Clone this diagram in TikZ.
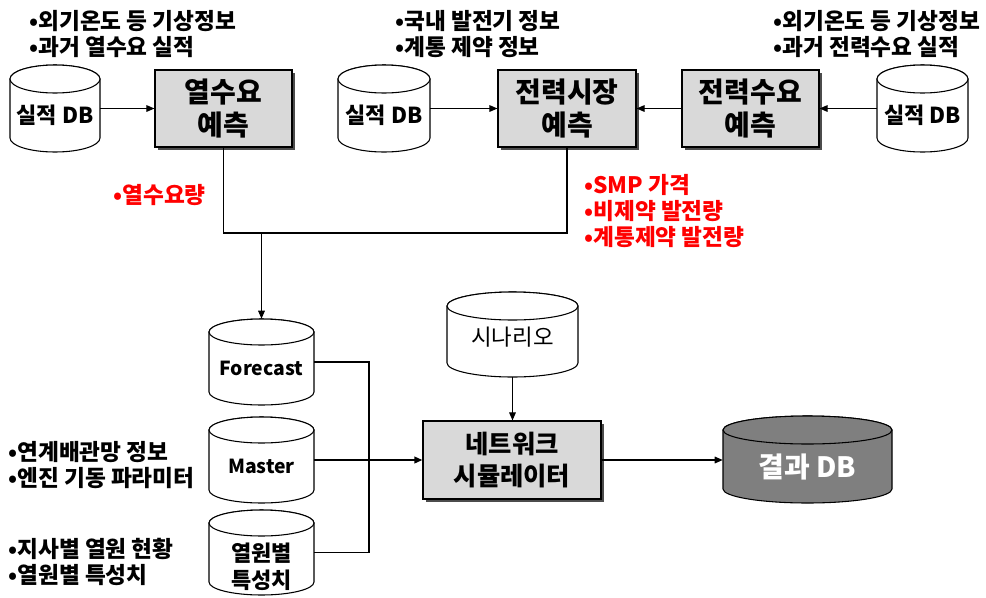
\documentclass[tikz,border=0pt]{standalone}
\usepackage{fontspec}
\setmainfont{Noto Sans CJK KR}
\usetikzlibrary{arrows.meta,shadows}
\definecolor{boxgray}{HTML}{D9D9D9}
\definecolor{dbdarkgray}{HTML}{7F7F7F}
\newcommand\dbcyl[9]{%
  \path[cylbody,#7] ({#2-#5},{#3+#6}) -- ({#2-#5},{#4-#6})
     arc[start angle=180,end angle=0,x radius=#5,y radius=#6]
     -- ({#2+#5},{#3+#6})
     arc[start angle=0,end angle=-180,x radius=#5,y radius=#6] -- cycle;
  \path[cylbody,#7] (#2,{#3+#6}) ellipse[x radius=#5,y radius=#6];
  \node[cylnode, minimum width={2*#5*0.75pt}, minimum height={(#4-#3)*0.75pt}] (#1) at (#2,{(#3+#4)/2}) {};
  \node[cyltext,#7 text] (#1-t) at (#2,#8) {#9};
}
\tikzset{
  x=0.75pt, y=-0.75pt,
  lbl/.style={anchor=west, inner sep=0pt, align=left, font=\fontsize{17}{19.5}\selectfont\bfseries},
  redlbl/.style={lbl, text=red},
  procbox/.style={draw=black, line width=0.9pt, fill=boxgray, align=center, inner sep=0pt,
    font=\fontsize{21}{25}\selectfont\bfseries,
    drop shadow={shadow xshift=2.6pt, shadow yshift=-2.6pt, fill=black!70, opacity=1}},
  cylbody/.style={draw=black, line width=0.8pt},
  cylnode/.style={draw=none, inner sep=0pt},
  cyltext/.style={inner sep=0pt, align=center, font=\fontsize{16.5}{20}\selectfont\bfseries},
  dbplain/.style={fill=white},
  dbplain text/.style={},
  dbscen/.style={fill=white},
  dbscen text/.style={font=\fontsize{16.8}{20}\selectfont},
  dbdark/.style={fill=dbdarkgray},
  dbdark text/.style={text=white, font=\fontsize{21}{25}\selectfont\bfseries},
  line/.style={draw=black, line width=0.8pt},
  arr/.style={line, -{Triangle[length=6pt,width=5pt]}},
}
\begin{document}
\begin{tikzpicture}
\useasboundingbox (0,0) rectangle (986,597);

% top labels
\node[lbl] (t1) at (29,34) {•외기온도 등 기상정보\\•과거 열수요 실적};
\node[lbl] (t2) at (395,34) {•국내 발전기 정보\\•계통 제약 정보};
\node[lbl] (t3) at (773,34) {•외기온도 등 기상정보\\•과거 전력수요 실적};

% top DBs
\dbcyl{db1}{55}{65}{152}{45}{14}{dbplain}{115.5}{실적 DB}
\dbcyl{db2}{384}{65}{152}{46}{14}{dbplain}{115.5}{실적 DB}
\dbcyl{db3}{922.5}{65}{152}{45.5}{14}{dbplain}{115.5}{실적 DB}

% process boxes
\node[procbox, minimum width=102.75pt, minimum height=57.75pt] (box1) at (223.5,108.5) {열수요\\예측};
\node[procbox, minimum width=103.5pt, minimum height=57.75pt] (box2) at (567,108.5) {전력시장\\예측};
\node[procbox, minimum width=102.75pt, minimum height=57.75pt] (box3) at (750.5,108.5) {전력수요\\예측};

\draw[arr] (db1) -- (box1);
\draw[arr] (db2) -- (box2);
\draw[arr] (db3) -- (box3);
\draw[arr] (box3) -- (box2);

% red labels
\node[redlbl] (r1) at (113,195) {•열수요량};
\node[redlbl] (r2) at (584,211) {•SMP 가격\\•비제약 발전량\\•계통제약 발전량};

% lower DBs
\dbcyl{fc}{261.5}{319}{405}{52.5}{13}{dbplain}{368.5}{\fontsize{14.5}{19}\selectfont Forecast}
\dbcyl{ms}{261.5}{417}{503}{52.5}{13}{dbplain}{466.5}{\fontsize{14.5}{19}\selectfont Master}
\dbcyl{hs}{261.5}{510}{595}{52.5}{13}{dbplain}{567}{\fontsize{16.5}{19.5}\selectfont 열원별\\특성치}
\dbcyl{sc}{512.5}{292}{377}{65.5}{14}{dbscen}{337}{시나리오}
\dbcyl{res}{807.5}{416}{503}{84.5}{14}{dbdark}{466.5}{결과 DB}

% bottom left labels
\node[lbl] (b1) at (8,465) {•연계배관망 정보\\•엔진 기동 파라미터};
\node[lbl] (b2) at (8,562) {•지사별 열원 현황\\•열원별 특성치};

% network box
\node[procbox, minimum width=133.5pt, minimum height=58.5pt, font=\fontsize{19}{24}\selectfont\bfseries] (net) at (512,460) {네트워크\\시뮬레이터};

% merge of forecasts
\coordinate (jn) at (261.5,233);
\draw[line] (box1.south) -- (box1.south |- jn) -- (box2.south |- jn) -- (box2.south);
\draw[arr] (jn) -- (fc.north);

% inputs to network
\coordinate (bj) at (369,460);
\draw[line] (fc.east) -- (fc.east -| bj) -- (hs.east -| bj) -- (hs.east);
\draw[line] (ms.east) -- (bj);
\draw[arr, line width=1.3pt] (bj) -- (net.west);
\draw[arr] (sc.south) -- (sc.south |- net.north);
\draw[arr] (net.east) -- (net.east -| res.west);
\end{tikzpicture}
\end{document}
